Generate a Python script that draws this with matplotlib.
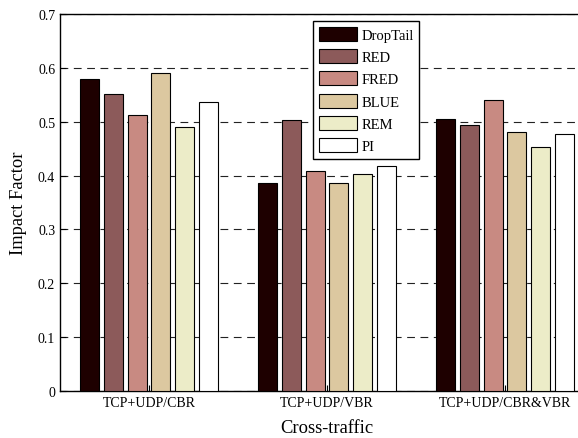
import numpy as np
import matplotlib
matplotlib.use("Agg")
import matplotlib.pyplot as plt

groups = ["TCP+UDP/CBR", "TCP+UDP/VBR", "TCP+UDP/CBR&VBR"]
schemes = ["DropTail", "RED", "FRED", "BLUE", "REM", "PI"]
droptail = [0.580, 0.387, 0.505]
red = [0.552, 0.503, 0.493]
fred = [0.512, 0.409, 0.540]
blue = [0.590, 0.386, 0.481]
rem = [0.490, 0.402, 0.453]
pi = [0.536, 0.417, 0.478]
colors = ["#1e0000", "#8c5a5a", "#c88a82", "#dcc8a0", "#ececc8", "#ffffff"]

plt.rcParams["font.family"] = ["Liberation Serif", "DejaVu Serif"]

fig = plt.figure(figsize=(5.78, 4.39), dpi=100)
ax = fig.add_axes([60 / 578, 47 / 439, 534 / 578, 377 / 439])

series = [droptail, red, fred, blue, rem, pi]
x = np.arange(1, len(groups) + 1)
step = 0.8 / len(series)
for i, (vals, name, c) in enumerate(zip(series, schemes, colors)):
    offset = (i - (len(series) - 1) / 2) * step
    ax.bar(x + offset, vals, width=step * 0.8, color=c, edgecolor="black",
           linewidth=0.8, label=name, zorder=3)

ax.set_xlim(0.5, 3.5)
ax.set_ylim(0, 0.7)
ax.set_yticks(np.arange(0, 0.71, 0.1))
ax.set_yticklabels(["0", "0.1", "0.2", "0.3", "0.4", "0.5", "0.6", "0.7"])
ax.set_xticks(x)
ax.set_xticklabels(groups)
ax.tick_params(direction="in", length=4, labelsize=10, width=0.8)
ax.grid(axis="y", linestyle=(0, (7, 5)), color="#222222", linewidth=0.8, zorder=0)
ax.set_axisbelow(True)
for s in ax.spines.values():
    s.set_linewidth(1.0)

ax.set_xlabel("Cross-traffic", fontsize=13.3, labelpad=7)
ax.set_ylabel("Impact Factor", fontsize=13.3, labelpad=8)

ax.legend(loc="upper left", bbox_to_anchor=(0.4738, 0.981), fontsize=10.5,
          frameon=True, fancybox=False, edgecolor="black", framealpha=1,
          handlelength=2.6, handleheight=1.1, labelspacing=0.5,
          borderpad=0.4, handletextpad=0.3, borderaxespad=0)

fig.savefig("out.png", dpi=100)
